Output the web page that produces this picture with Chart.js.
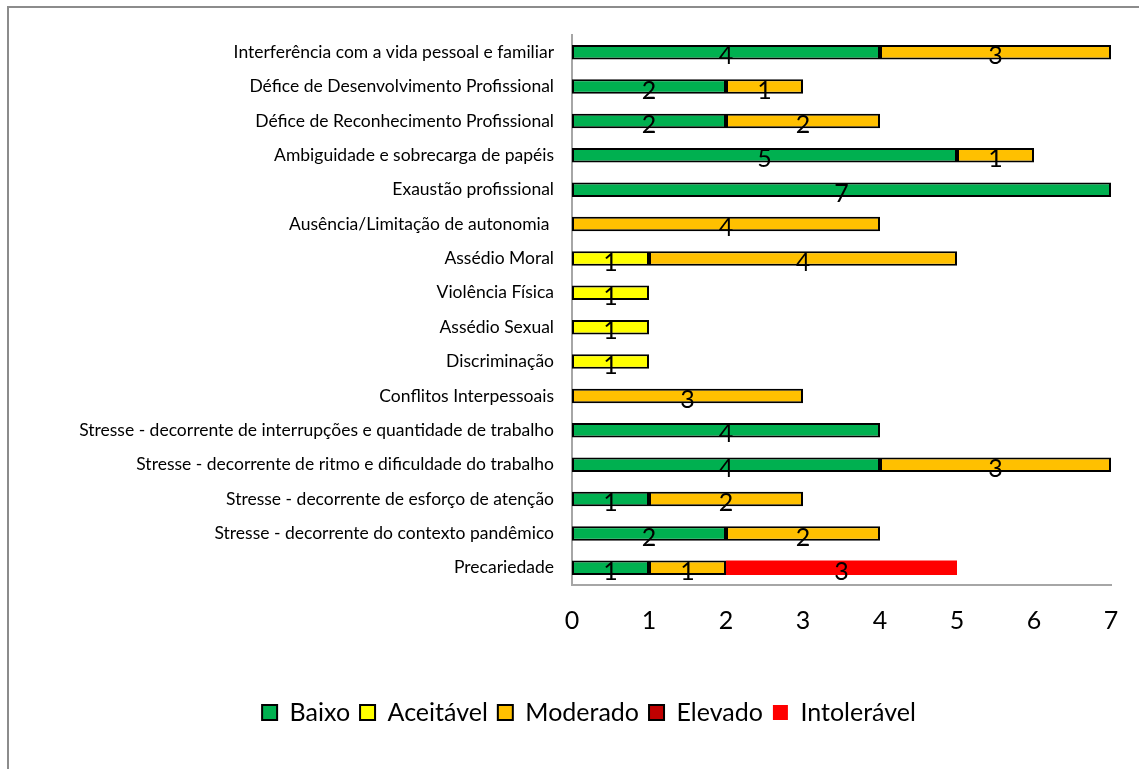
<!DOCTYPE html>
<html>
<head>
<meta charset="utf-8">
<script src="https://cdn.jsdelivr.net/npm/chart.js@4"></script>
<style>
  html, body { margin: 0; padding: 0; background: #fff; }
  #wrap { position: relative; width: 1139px; height: 769px; overflow: hidden; }
  #frame { position: absolute; left: 7px; top: 6px; width: 1200px; height: 800px; border: 2px solid #8c8c8c; box-sizing: border-box; }
  canvas { position: absolute; left: 0; top: 0; }
</style>
</head>
<body>
<div id="wrap">
  <div id="frame"></div>
  <canvas id="myChart" width="1139" height="769"></canvas>
</div>
<script>
const categories = [
  'Interferência com a vida pessoal e familiar',
  'Défice de Desenvolvimento Profissional',
  'Défice de Reconhecimento Profissional',
  'Ambiguidade e sobrecarga de papéis',
  'Exaustão profissional',
  'Ausência/Limitação de autonomia ',
  'Assédio Moral',
  'Violência Física',
  'Assédio Sexual',
  'Discriminação',
  'Conflitos Interpessoais',
  'Stresse - decorrente de interrupções e quantidade de trabalho',
  'Stresse - decorrente de ritmo e dificuldade do trabalho',
  'Stresse - decorrente de esforço de atenção',
  'Stresse - decorrente do contexto pandêmico',
  'Precariedade'
];
const baixo      = [4, 2, 2, 5, 7, 0, 0, 0, 0, 0, 0, 4, 4, 1, 2, 1];
const aceitavel  = [0, 0, 0, 0, 0, 0, 1, 1, 1, 1, 0, 0, 0, 0, 0, 0];
const moderado   = [3, 1, 2, 1, 0, 4, 4, 0, 0, 0, 3, 0, 3, 2, 2, 1];
const elevado    = [0, 0, 0, 0, 0, 0, 0, 0, 0, 0, 0, 0, 0, 0, 0, 0];
const intoleravel = [0, 0, 0, 0, 0, 0, 0, 0, 0, 0, 0, 0, 0, 0, 0, 3];
const xTicks = [0, 1, 2, 3, 4, 5, 6, 7];

const fontFam = 'Lato, "Open Sans", sans-serif';

// value labels in the middle of each segment
const barLabels = {
  id: 'barLabels',
  afterDatasetsDraw(chart) {
    const ctx = chart.ctx;
    ctx.save();
    ctx.font = '25px ' + fontFam;
    ctx.fillStyle = '#000';
    ctx.textAlign = 'center';
    ctx.textBaseline = 'middle';
    chart.data.datasets.forEach((ds, i) => {
      chart.getDatasetMeta(i).data.forEach((bar, j) => {
        const v = ds.data[j];
        if (!v) return;
        ctx.fillText(String(v), (bar.x + bar.base) / 2, bar.y + 4);
      });
    });
    ctx.restore();
  }
};

const mk = (label, data, color, bw) => ({
  label, data,
  backgroundColor: color,
  borderColor: '#000',
  borderWidth: bw,
  borderSkipped: false,
  categoryPercentage: 1,
  barPercentage: 0.42
});

const config = {
  type: 'bar',
  data: {
    labels: categories,
    datasets: [
      mk('Baixo', baixo, '#00B050', 2),
      mk('Aceitável', aceitavel, '#FFFF00', 2),
      mk('Moderado', moderado, '#FFC000', 2),
      mk('Elevado', elevado, '#C00000', 2),
      mk('Intolerável', intoleravel, '#FF0000', 0)
    ]
  },
  options: {
    indexAxis: 'y',
    responsive: false,
    animation: false,
    layout: { padding: { left: 67, right: 28, top: 35, bottom: 34 } },
    scales: {
      x: {
        stacked: true,
        min: 0,
        max: 7,
        afterBuildTicks: (s) => { s.ticks = xTicks.map(v => ({ value: v })); },
        afterFit: (s) => { s.height = 105; },
        grid: { display: false },
        border: { display: true, color: '#a6a6a6', width: 2 },
        ticks: { color: '#000', padding: 13, font: { size: 25, family: fontFam } }
      },
      y: {
        stacked: true,
        afterFit: (s) => { s.width = 505; },
        grid: { display: false },
        border: { display: true, color: '#a6a6a6', width: 2 },
        ticks: { color: '#000', padding: 10, font: { size: 17.5, family: fontFam }, autoSkip: false }
      }
    },
    plugins: {
      tooltip: { enabled: false },
      legend: {
        position: 'bottom',
        labels: {
          color: '#000',
          boxWidth: 15,
          boxHeight: 15,
          padding: 10,
          font: { size: 25, family: fontFam }
        }
      }
    }
  },
  plugins: [barLabels]
};

const myChart = new Chart(document.getElementById('myChart'), config);
</script>
</body>
</html>
